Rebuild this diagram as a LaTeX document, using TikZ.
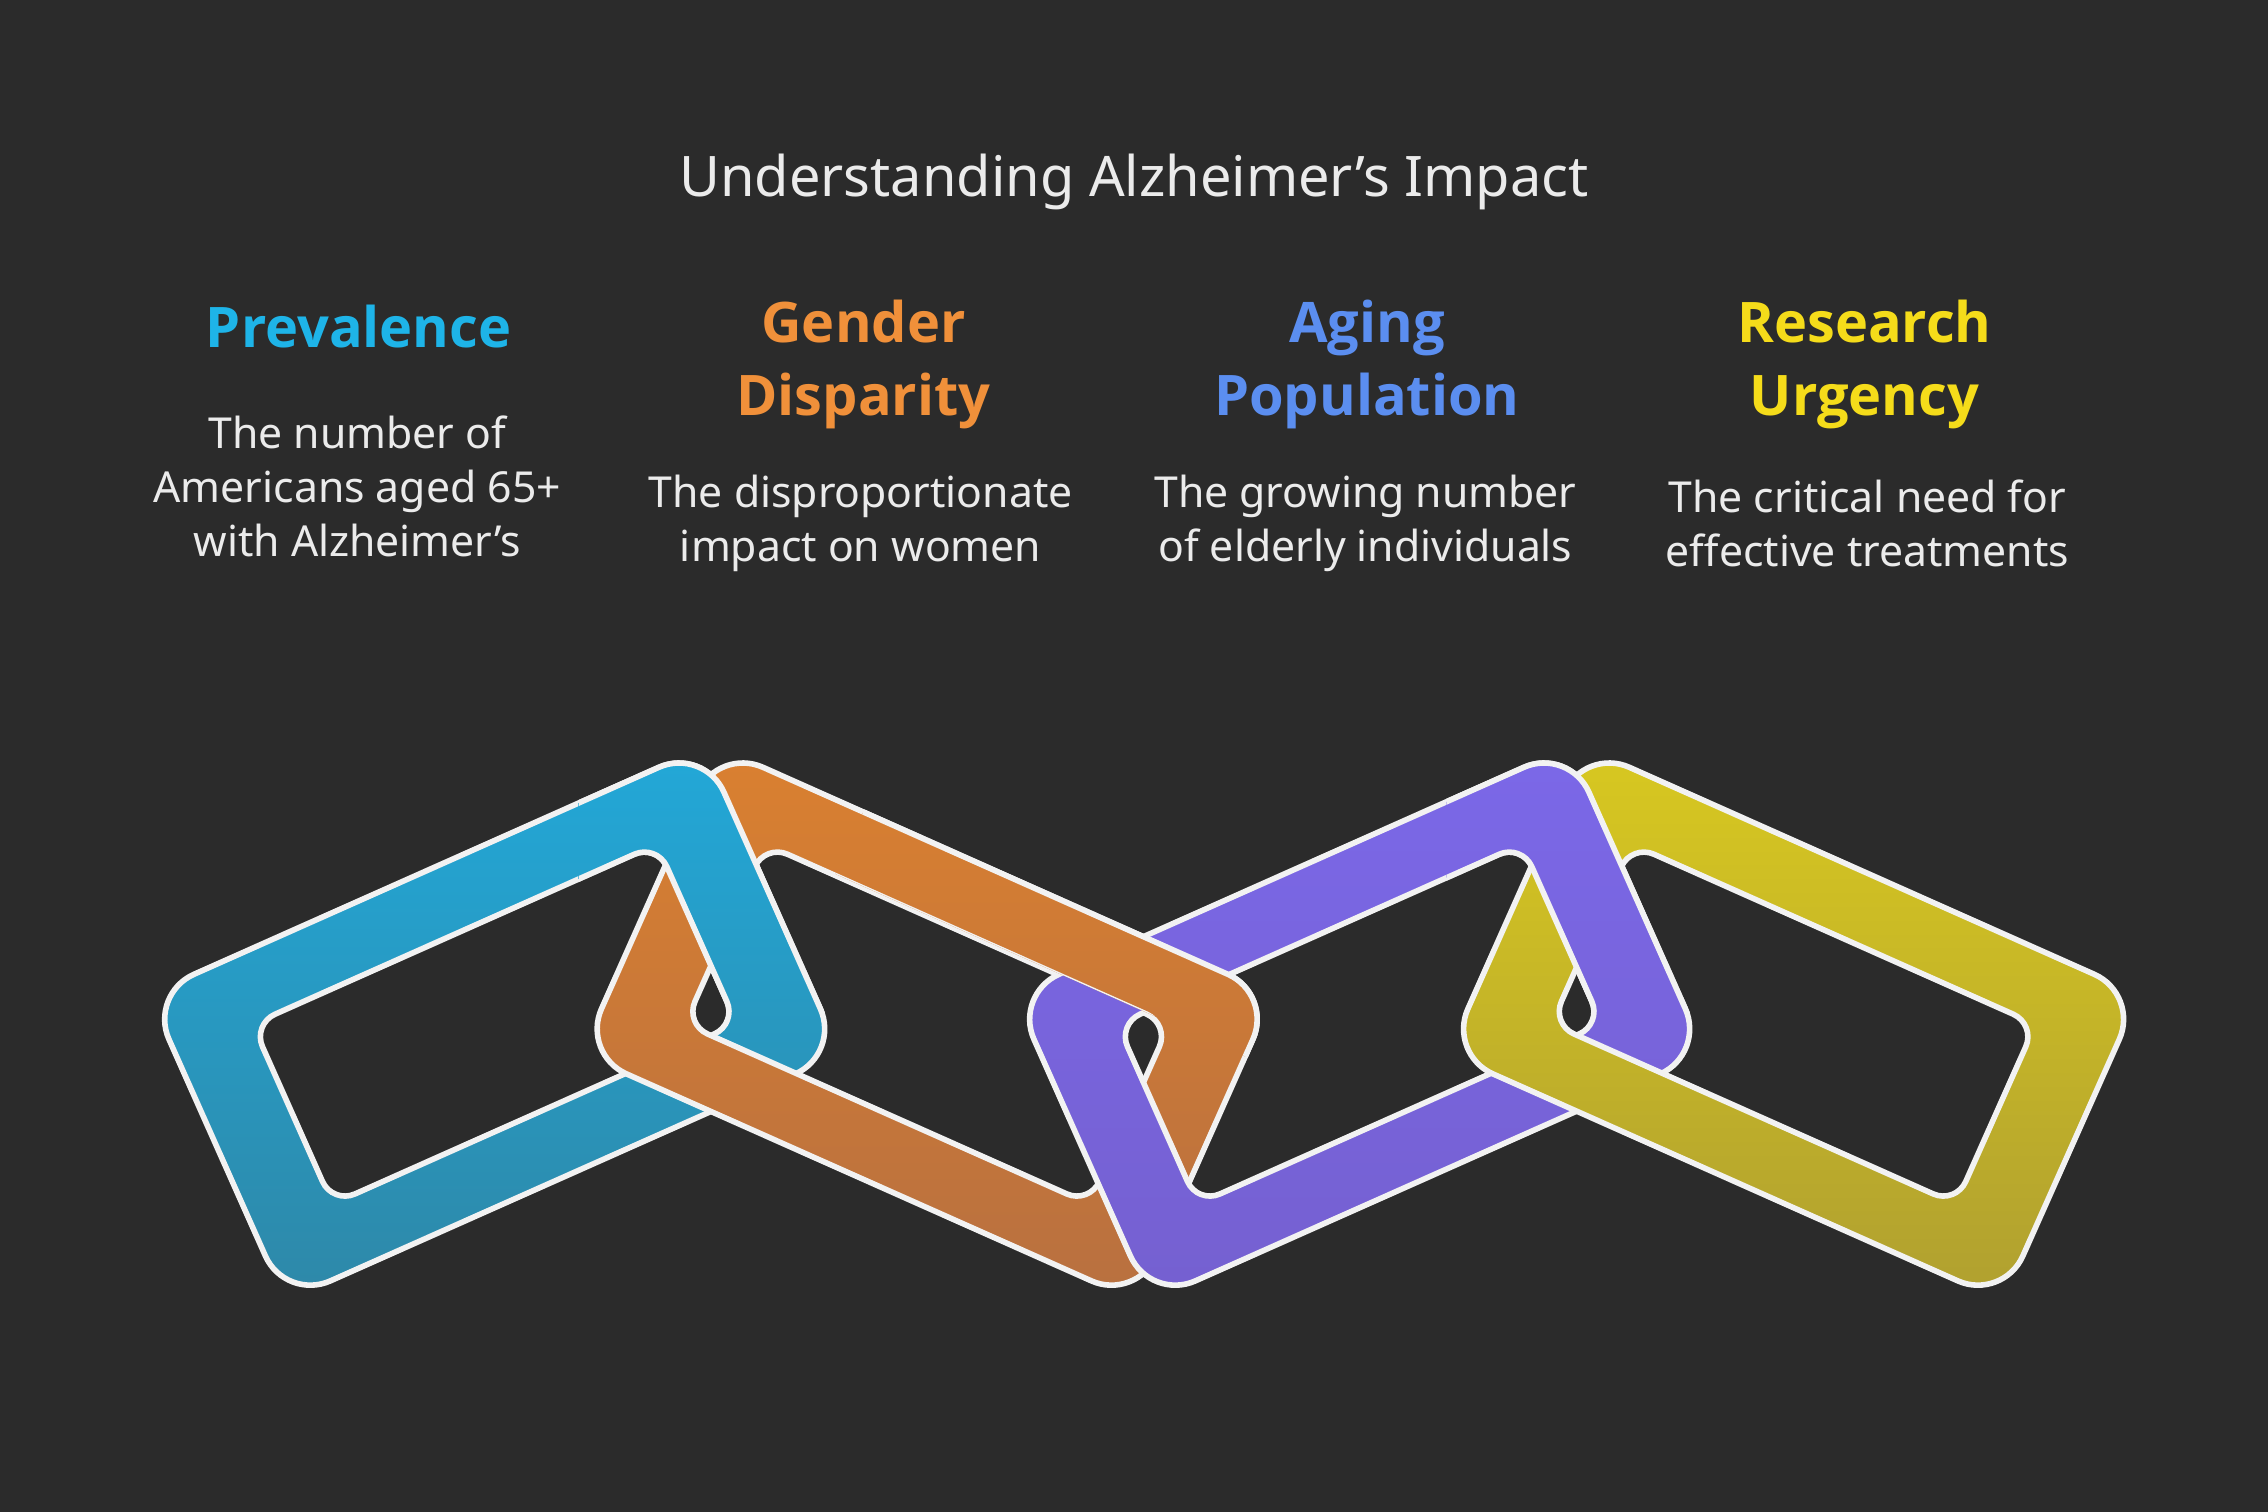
\documentclass[tikz,border=0pt]{standalone}
\usepackage{fontspec}
\setmainfont{Noto Sans}
\newfontfamily\headfont{Open Sans}
\definecolor{bg}{HTML}{2B2B2B}
\definecolor{cPrev}{HTML}{1EB4E8}
\definecolor{cGend}{HTML}{F0903A}
\definecolor{cAging}{HTML}{5B8EF0}
\definecolor{cRes}{HTML}{F5DC1A}
\definecolor{b1t}{HTML}{22A8D8}\definecolor{b1b}{HTML}{2E88A8}
\definecolor{o1t}{HTML}{DA8030}\definecolor{o1b}{HTML}{B87040}
\definecolor{p1t}{HTML}{7B68E8}\definecolor{p1b}{HTML}{7560D0}
\definecolor{y1t}{HTML}{D8C820}\definecolor{y1b}{HTML}{B0A030}
\newcommand\chainlink[5]{%
\begin{scope}[shift={(#1,#2)},rotate=#3]
\shade[top color=#4, bottom color=#5, even odd rule, draw=white!95!black, line width=1.1pt]
 [rounded corners=0.34cm] (-2.1,-1.16) rectangle (2.1,1.16)
 [rounded corners=0.17cm] (-1.53,-0.68) rectangle (1.53,0.68);
\end{scope}}
\tikzset{
 head/.style={font=\headfont\fontsize{11}{14.3}\selectfont\bfseries, align=center},
 body/.style={font=\fontsize{8.4}{10.6}\selectfont, text=white!92!black, align=center},
}
\begin{document}
\begin{tikzpicture}
\fill[bg] (0,0) rectangle (15.68,-10.45);
\useasboundingbox (0,0) rectangle (15.68,-10.45);
\node[font=\fontsize{11}{13}\selectfont, text=white!92!black] (title) at (7.84,-1.26) {Understanding Alzheimer's Impact};
\node[head, text=cPrev] (h1) at (2.48,-2.26) {Prevalence};
\node[head, text=cGend] (h2) at (5.97,-2.52) {Gender\\Disparity};
\node[head, text=cAging] (h3) at (9.45,-2.52) {Aging\\Population};
\node[head, text=cRes] (h4) at (12.89,-2.52) {Research\\Urgency};
\node[body] (b1) at (2.47,-3.36) {The number of\\Americans aged 65+\\with Alzheimer's};
\node[body] (b2) at (5.95,-3.62) {The disproportionate\\impact on women};
\node[body] (b3) at (9.44,-3.62) {The growing number\\of elderly individuals};
\node[body] (b4) at (12.91,-3.62) {The critical need for\\effective treatments};
\chainlink{3.42}{-7.08}{24}{b1t}{b1b}
\chainlink{6.41}{-7.08}{-24}{o1t}{o1b}
\begin{scope}\clip (4.0,-7.0) rectangle (6.0,-5.0);\chainlink{3.42}{-7.08}{24}{b1t}{b1b}\end{scope}
\chainlink{9.40}{-7.08}{24}{p1t}{p1b}
\begin{scope}\clip[shift={(6.41,-7.08)},rotate=-24] (-1,0.69) rectangle (2.4,1.6);\chainlink{6.41}{-7.08}{-24}{o1t}{o1b}\end{scope}
\chainlink{12.40}{-7.08}{-24}{y1t}{y1b}
\begin{scope}\clip (10.0,-7.0) rectangle (12.0,-5.0);\chainlink{9.40}{-7.08}{24}{p1t}{p1b}\end{scope}
\end{tikzpicture}
\end{document}
